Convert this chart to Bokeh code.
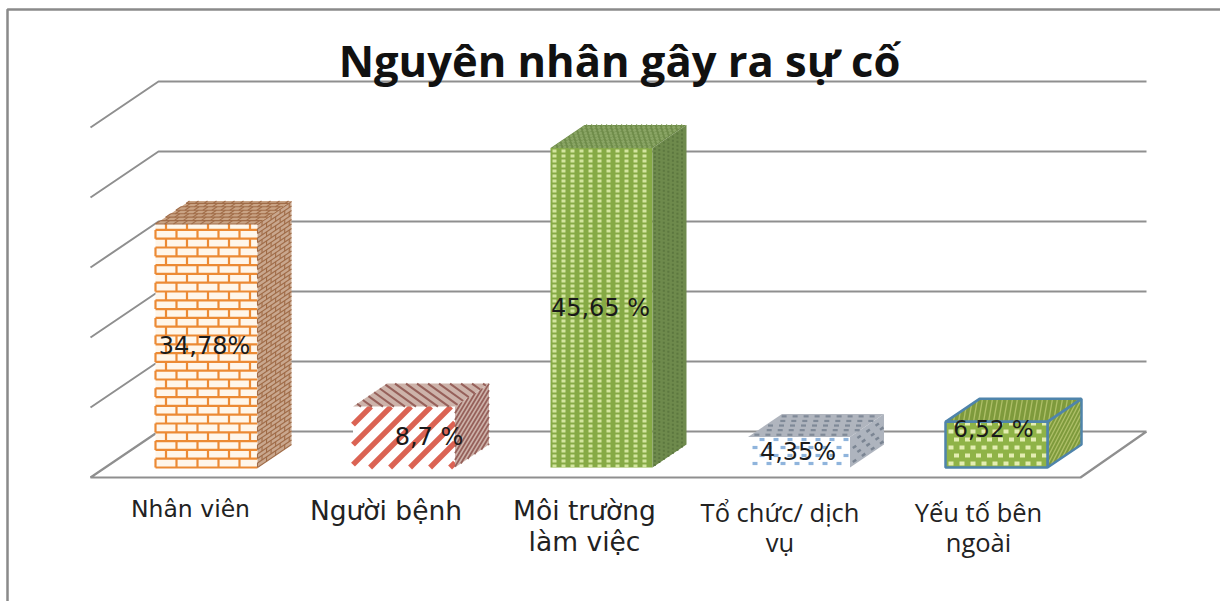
from bokeh.plotting import figure
from bokeh.embed import file_html
from bokeh.resources import INLINE
from bokeh.models import Range1d, ColumnDataSource
from bokeh.core.properties import value

TITLE = "Nguyên nhân gây ra sự cố"
CATEGORIES = ["Nhân viên", "Người bệnh", "Môi trường\nlàm việc", "Tổ chức/ dịch\nvụ", "Yếu tố bên\nngoài"]
VALUES = [34.78, 8.7, 45.65, 4.35, 6.52]
VALUE_LABELS = ["34,78%", "8,7 %", "45,65 %", "4,35%", "6,52 %"]
GRID_TICKS = [10, 20, 30, 40, 50]

W, H = 1220, 601
PX_PER_UNIT = 7.0
BASE_PY = 467               # zero line of bar fronts, from the top of the plot
Y0 = (BASE_PY - H) / PX_PER_UNIT
Y1 = BASE_PY / PX_PER_UNIT

p = figure(width=W, height=H, output_backend="svg", toolbar_location=None,
           x_range=Range1d(0, W), y_range=Range1d(Y0, Y1),
           min_border=0, outline_line_color=None, background_fill_color="white")
p.axis.visible = False
p.grid.visible = False

GRID = "#8f8f8f"
FLOOR_FRONT, FLOOR_BACK = -10 / PX_PER_UNIT, 36 / PX_PER_UNIT
WALL_L, WALL_B0, WALL_B1, FLOOR_R = 90, 158, 1146, 1080

# frame of the slide
FRAME_X, FRAME_Y = 7, Y1 - 9 / PX_PER_UNIT
p.multi_line([[FRAME_X, FRAME_X, W]], [[Y0, FRAME_Y, FRAME_Y]], line_color="#8a8a8a", line_width=2.5)

# walls and floor
for t in GRID_TICKS:
    yb = FLOOR_BACK + t
    yf = FLOOR_FRONT + t
    p.line([WALL_L, WALL_B0, WALL_B1], [yf, yb, yb], line_color=GRID, line_width=2)
p.line([WALL_B1, WALL_B0, WALL_L, FLOOR_R, WALL_B1],
       [FLOOR_BACK, FLOOR_BACK, FLOOR_FRONT, FLOOR_FRONT, FLOOR_BACK],
       line_color=GRID, line_width=2.2)


def clip(a0, b0, a1, b1, w, h):
    t0, t1 = 0.0, 1.0
    da, db = a1 - a0, b1 - b0
    for q, d in ((a0, -da), (w - a0, da), (b0, -db), (h - b0, db)):
        if d == 0:
            if q < 0:
                return None
        else:
            r = q / d
            if d < 0:
                t0 = max(t0, r)
            else:
                t1 = min(t1, r)
    if t0 >= t1:
        return None
    return (a0 + t0 * da, b0 + t0 * db, a0 + t1 * da, b0 + t1 * db)


def bricks(w, h, row, brick):
    segs = []
    k = 0
    while k * row <= h:
        segs.append((0, k * row, w, k * row))
        a = (k % 2) * brick / 2
        while a <= w:
            s = clip(a, k * row, a, (k + 1) * row, w, h)
            if s:
                segs.append(s)
            a += brick
        k += 1
    return segs


def stripes(w, h, period, slope):
    segs = []
    c = -(h * abs(slope) + w) - period
    while c < w + h * abs(slope) + period:
        s = clip(c, 0, c + slope * h, h, w, h)
        if s:
            segs.append(s)
        c += period
    return segs


def dots(w, h, px, py, size):
    segs = []
    k = 0
    while k * py < h:
        a = px / 2 + (k % 2) * px / 2
        while a < w:
            s = clip(a - size / 2, k * py + py / 2, a + size / 2, k * py + py / 2, w, h)
            if s:
                segs.append(s)
            a += px
        k += 1
    return segs


def face(o, u, v, w, h, fill, segs=(), color=None, width=1, dash="solid", line=None, lw=0):
    xs = [o[0], o[0] + u[0], o[0] + u[0] + v[0], o[0] + v[0]]
    ys = [o[1], o[1] + u[1], o[1] + u[1] + v[1], o[1] + v[1]]
    p.patch(xs, ys, fill_color=fill, line_color=None)
    mx, my = [], []
    for a0, b0, a1, b1 in segs:
        mx.append([o[0] + a0 / w * u[0] + b0 / h * v[0], o[0] + a1 / w * u[0] + b1 / h * v[0]])
        my.append([o[1] + a0 / w * u[1] + b0 / h * v[1], o[1] + a1 / w * u[1] + b1 / h * v[1]])
    if mx:
        p.multi_line(mx, my, line_color=color, line_width=width, line_dash=dash, line_cap="butt")
    if line:
        p.patch(xs, ys, fill_color=None, line_color=line, line_width=lw)


BAR_X0, BAR_STEP, BAR_W = 155, 197.5, 102
DX, DY = 34, 23 / PX_PER_UNIT
DPX = 30  # texture length of side / top faces

for i, val in enumerate(VALUES):
    x = BAR_X0 + i * BAR_STEP
    hp = val * PX_PER_UNIT
    front = ((x, 0), (BAR_W, 0), (0, val), BAR_W, hp)
    side = ((x + BAR_W, 0), (DX, DY), (0, val), DPX, hp)
    top = ((x, val), (BAR_W, 0), (DX, DY), BAR_W, DPX)
    if i == 0:
        face(*front, "#fff6ea", bricks(BAR_W, hp, 8.8, 21), "#ec8a34", 2.2)
        face(*side, "#c9a78e", bricks(DPX, hp, 4.5, 8), "#a06c48", 1.1)
        face(*top, "#c9a384", bricks(BAR_W, DPX, 4.5, 9), "#a06c48", 1.1)
    elif i == 1:
        face(*front, "#ffffff", stripes(BAR_W, hp, 20, 1.0), "#db6353", 5.5)
        face(*side, "#cdb3aa", stripes(DPX, hp, 6, 0.9), "#96605a", 1.8)
        face(*top, "#cdb3aa", stripes(BAR_W, DPX, 11, -2.2), "#96605a", 2.0)
    elif i == 2:
        cols = [(a, 0, a, hp) for a in range(4, BAR_W, 9)]
        face(*front, "#86aa45", cols, "#d3e59f", 4, "3 2")
        cols = [(a, 0, a, hp) for a in range(2, DPX, 4)]
        face(*side, "#6e8a4c", cols, "#5c773f", 2, "2 2")
        cols = [(a, 0, a, DPX) for a in range(3, BAR_W, 5)]
        face(*top, "#6f8c4a", cols, "#8aa565", 2.5, "3 2")
    elif i == 3:
        face(*front, "#ffffff", dots(BAR_W, hp, 14, 8, 5), "#8fb4dc", 3.2)
        face(*side, "#aeb4be", dots(DPX, hp, 8, 7, 3), "#7b8593", 2.5)
        face(*top, "#b0b5be", dots(BAR_W, DPX, 11, 6, 5), "#7f8997", 2.2)
    else:
        face(*top, "#7e9a3c", stripes(BAR_W, DPX, 5, -1.0), "#aebf68", 1.3, line="#4f84ab", lw=2.5)
        face(*side, "#7e9a3c", stripes(DPX, hp, 5, 0.7), "#aebf68", 1.3, line="#4f84ab", lw=2.5)
        face(*front, "#8fb347", dots(BAR_W, hp, 11, 8, 5), "#e3edb2", 4, line="#4f84ab", lw=2.5)

# value labels (sit near the middle of the bars)
LABEL_SHIFT_X = [-2, 25, -1, -1, -3]
LABEL_SHIFT_Y = [0, 0, 0, 0, 16 / PX_PER_UNIT]
LABEL_SIZES = ["24px", "24px", "24px", "24px", "23px"]
val_src = ColumnDataSource(dict(
    x=[BAR_X0 + i * BAR_STEP + BAR_W / 2 + LABEL_SHIFT_X[i] for i in range(5)],
    y=[VALUES[i] / 2 + LABEL_SHIFT_Y[i] for i in range(5)],
    t=VALUE_LABELS, s=LABEL_SIZES))
p.text("x", "y", text="t", source=val_src, text_font=value("DejaVu Sans"), text_font_size="s",
       text_color="#1a1a1a", text_align="center", text_baseline="middle")

# category labels
CAT_SHIFT = [-16, -18, -17, -19, -18]
CAT_FONTS = ["DejaVu Sans", "DejaVu Sans", "DejaVu Sans", "Open Sans", "Open Sans"]
CAT_SIZES = ["23.5px", "26.5px", "26.5px", "25.5px", "25.5px"]
CAT_LEADING = [1.0, 1.0, 1.0, 0.9, 0.9]
cat_src = ColumnDataSource(dict(
    x=[BAR_X0 + i * BAR_STEP + BAR_W / 2 + CAT_SHIFT[i] for i in range(5)],
    y=[(BASE_PY - 494) / PX_PER_UNIT] * 5,
    t=CATEGORIES, f=CAT_FONTS, s=CAT_SIZES, lh=CAT_LEADING))
p.text("x", "y", text="t", source=cat_src, text_font="f", text_font_size="s",
       text_color="#222222", text_align="center", text_baseline="top", text_line_height="lh")

# title
p.text([619], [(BASE_PY - 60) / PX_PER_UNIT], text=[TITLE], text_font=value("Open Sans"),
       text_font_size="43.5px", text_font_style="bold", text_color="#111111",
       text_align="center", text_baseline="middle")

open("out.html", "w").write(file_html(p, INLINE))
